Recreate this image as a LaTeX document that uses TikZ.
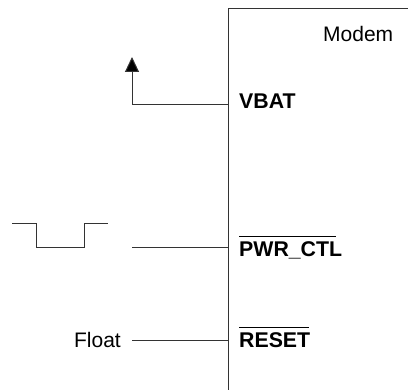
\documentclass[tikz,border=0pt]{standalone}
\usepackage{fontspec}
\setmainfont{Liberation Sans}
\usetikzlibrary{arrows.meta}
\newcommand{\barred}[2]{\vbox{\hrule height 1pt width #1 \kern 5.5pt \hbox{#2}}}
\tikzset{
  wire/.style={line width=1pt,black!80},
  pin/.style={anchor=base west,inner sep=0pt,font=\fontsize{21.3}{21.3}\selectfont\bfseries},
  plain/.style={inner sep=0pt,font=\fontsize{21}{21}\selectfont}
}

\begin{document}
\begin{tikzpicture}[x=1pt,y=-1pt]
  \useasboundingbox (0,0) rectangle (408,390);
  % modem box
  \coordinate (boxbl) at (228,390);
  \coordinate (boxtl) at (228,9);
  \coordinate (boxtr) at (408,9);
  \draw[wire] (boxbl) -- (boxtl) -- (boxtr);
  \node[plain,anchor=base west] (modem) at (323,42) {Modem};
  % pins
  \node[pin] (vbat) at (239,109) {VBAT};
  \node[pin] (pwr) at (239,257) {\barred{97pt}{PWR\_CTL}};
  \node[pin] (reset) at (239,348) {\barred{70pt}{RESET}};
  \coordinate (vbatpin) at (228,105);
  \coordinate (pwrpin) at (228,248);
  \coordinate (resetpin) at (228,341);
  % VBAT
  \coordinate (vbatcorner) at (132,105);
  \coordinate (vbatend) at (132,57);
  \draw[wire,-{Triangle[width=14pt,length=15pt,fill=black]}] (vbatpin) -- (vbatcorner) -- (vbatend);
  % pulse
  \coordinate (pwrstart) at (132,248);
  \draw[wire] (pwrpin) -- (pwrstart);
  \coordinate (pulsea) at (12,224);
  \coordinate (pulseb) at (36,224);
  \coordinate (pulsec) at (36,248);
  \coordinate (pulsed) at (84,248);
  \coordinate (pulsee) at (84,224);
  \coordinate (pulsef) at (108,224);
  \draw[wire] (pulsea) -- (pulseb) -- (pulsec) -- (pulsed) -- (pulsee) -- (pulsef);
  % float
  \node[plain,anchor=base east] (float) at (121,348) {Float};
  \coordinate (floatend) at (132,341);
  \draw[wire] (resetpin) -- (floatend);
\end{tikzpicture}
\end{document}
